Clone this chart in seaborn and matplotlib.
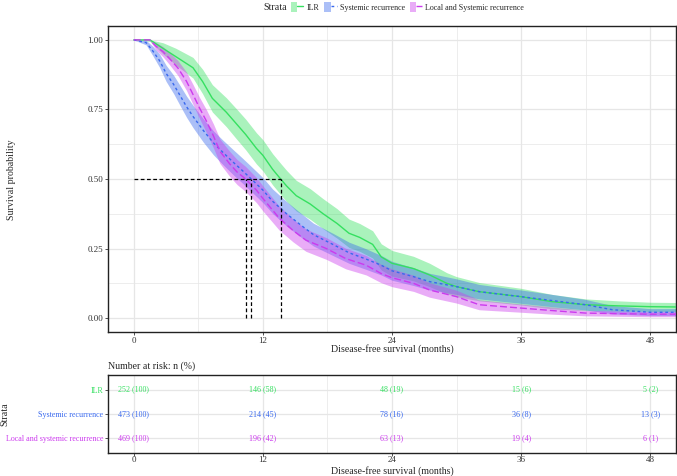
import numpy as np
import pandas as pd
import matplotlib
matplotlib.use("Agg")
import matplotlib.pyplot as plt
import seaborn as sns
from matplotlib.lines import Line2D
from matplotlib.patches import Patch
from matplotlib.legend_handler import HandlerTuple
from matplotlib.ticker import MultipleLocator

# ---------------- data ----------------
strata_names = ["ILR", "Systemic recurrence", "Local and Systemic recurrence"]
table_labels = ["ILR", "Systemic recurrence", "Local and systemic recurrence"]

ilr_time = [0, 1.5, 2.7, 3.9, 5.5, 6.4, 7.3, 8.6, 9.5, 10.4, 11.4, 12.0, 12.9, 13.65, 14.2, 15.1, 16.4,
            17.6, 18.9, 20.0, 21.0, 22.2, 23.0, 24.0, 26.0, 27.5, 29.1, 30.0, 32.1, 36.0, 38.9, 42.0,
            45.0, 48.0, 50.4]
ilr_surv = [1.0, 1.0, 0.97, 0.94, 0.90, 0.85, 0.79, 0.74, 0.70, 0.66, 0.61, 0.585, 0.535, 0.5, 0.475,
            0.44, 0.41, 0.375, 0.34, 0.305, 0.29, 0.265, 0.22, 0.197, 0.178, 0.155, 0.125, 0.113, 0.095,
            0.077, 0.059, 0.048, 0.044, 0.041, 0.04]
ilr_lower = [1.0, 0.995, 0.95, 0.91, 0.863, 0.806, 0.741, 0.688, 0.646, 0.605, 0.554, 0.529, 0.479, 0.444,
             0.419, 0.385, 0.355, 0.321, 0.287, 0.254, 0.24, 0.216, 0.173, 0.151, 0.134, 0.113, 0.087,
             0.077, 0.062, 0.047, 0.033, 0.027, 0.025, 0.024, 0.024]
ilr_upper = [1.0, 1.0, 0.99, 0.97, 0.937, 0.894, 0.839, 0.792, 0.754, 0.715, 0.666, 0.641, 0.591, 0.556,
             0.531, 0.495, 0.465, 0.429, 0.393, 0.356, 0.34, 0.314, 0.267, 0.243, 0.222, 0.197, 0.163,
             0.149, 0.128, 0.107, 0.085, 0.069, 0.062, 0.057, 0.056]

sys_time = [0, 1.15, 1.77, 2.4, 3.0, 3.7, 4.3, 4.9, 5.5, 6.45, 7.4, 8.3, 9.25, 10.1, 10.92, 12.0, 12.9,
            14.2, 15.5, 16.7, 18.5, 20.0, 21.6, 23.0, 24.0, 26.0, 27.5, 30.0, 32.1, 36.0, 38.9, 42.0,
            44.5, 48.0, 50.4]
sys_surv = [1.0, 0.99, 0.96, 0.925, 0.88, 0.84, 0.80, 0.76, 0.725, 0.675, 0.63, 0.595, 0.56, 0.53, 0.5,
            0.46, 0.42, 0.375, 0.335, 0.30, 0.265, 0.235, 0.212, 0.19, 0.17, 0.149, 0.131, 0.113, 0.095,
            0.077, 0.063, 0.048, 0.03, 0.021, 0.021]
sys_lower = [1.0, 0.982, 0.943, 0.901, 0.851, 0.807, 0.764, 0.722, 0.685, 0.633, 0.587, 0.551, 0.515,
             0.485, 0.455, 0.415, 0.376, 0.331, 0.292, 0.259, 0.225, 0.197, 0.175, 0.155, 0.136, 0.117,
             0.101, 0.085, 0.069, 0.053, 0.041, 0.029, 0.015, 0.009, 0.009]
sys_upper = [1.0, 0.998, 0.977, 0.949, 0.909, 0.873, 0.836, 0.798, 0.765, 0.717, 0.673, 0.639, 0.605,
             0.575, 0.545, 0.505, 0.464, 0.419, 0.378, 0.341, 0.305, 0.273, 0.249, 0.225, 0.204, 0.181,
             0.161, 0.141, 0.121, 0.101, 0.085, 0.067, 0.045, 0.034, 0.034]

loc_time = [0, 1.5, 2.1, 2.7, 3.3, 4.1, 4.9, 5.5, 6.1, 6.75, 7.4, 8.0, 8.9, 9.6, 10.39, 11.4, 12.0, 13.5,
            14.8, 16.0, 17.9, 19.7, 21.6, 23.0, 24.0, 26.0, 27.5, 30.0, 32.1, 36.0, 38.9, 42.0, 48.0, 50.4]
loc_surv = [1.0, 1.0, 0.976, 0.958, 0.934, 0.899, 0.851, 0.804, 0.756, 0.708, 0.655, 0.60, 0.555, 0.525,
            0.5, 0.46, 0.43, 0.36, 0.315, 0.28, 0.25, 0.214, 0.19, 0.16, 0.145, 0.125, 0.101, 0.077, 0.048,
            0.036, 0.027, 0.018, 0.014, 0.014]
loc_lower = [1.0, 0.997, 0.962, 0.94, 0.912, 0.872, 0.818, 0.768, 0.718, 0.667, 0.612, 0.556, 0.51, 0.48,
             0.455, 0.415, 0.385, 0.317, 0.274, 0.24, 0.211, 0.177, 0.155, 0.127, 0.113, 0.096, 0.075,
             0.054, 0.03, 0.021, 0.014, 0.008, 0.005, 0.005]
loc_upper = [1.0, 1.0, 0.99, 0.976, 0.956, 0.926, 0.884, 0.84, 0.794, 0.749, 0.698, 0.644, 0.60, 0.57,
             0.545, 0.505, 0.475, 0.403, 0.356, 0.32, 0.289, 0.251, 0.225, 0.193, 0.177, 0.154, 0.127,
             0.1, 0.066, 0.051, 0.04, 0.028, 0.023, 0.023]

median_times = [13.65, 10.92, 10.39]

risk_times = [0, 12, 24, 36, 48]
risk_ilr = ["252 (100)", "146 (58)", "48 (19)", "15 (6)", "5 (2)"]
risk_sys = ["473 (100)", "214 (45)", "78 (16)", "36 (8)", "13 (3)"]
risk_loc = ["469 (100)", "196 (42)", "63 (13)", "19 (4)", "6 (1)"]

# ---------------- styling ----------------
colors = ["#35E060", "#3868EE", "#CC3AEE"]
dash_styles = [(None, None), (2, 2), (5, 2.2)]

sns.set_theme(style="white")
plt.rcParams["font.family"] = ["Liberation Serif", "DejaVu Serif"]

FS_TITLE = 7.1
FS_TICK = 6.5
FS_SMALL = 5.8

W, H = 677, 476
fig = plt.figure(figsize=(W / 100, H / 100), dpi=100)

def fr(l, t, r, b):
    return [l / W, 1 - b / H, (r - l) / W, (b - t) / H]

ax = fig.add_axes(fr(108, 26, 676, 332))
axt = fig.add_axes(fr(108, 375, 676, 453))

series = [
    (ilr_time, ilr_surv, ilr_lower, ilr_upper),
    (sys_time, sys_surv, sys_lower, sys_upper),
    (loc_time, loc_surv, loc_lower, loc_upper),
]

frames = []
for name, (t, s, lo, hi) in zip(strata_names, series):
    frames.append(pd.DataFrame({"time": t, "surv": s, "lower": lo, "upper": hi, "Strata": name}))
df = pd.concat(frames, ignore_index=True)

# confidence bands
for name, col in zip(strata_names, colors):
    d = df[df["Strata"] == name]
    ax.fill_between(d["time"], d["lower"], d["upper"], color=col, alpha=0.42, linewidth=0, zorder=2)

sns.lineplot(data=df, x="time", y="surv", hue="Strata", style="Strata",
             palette=dict(zip(strata_names, colors)),
             dashes=dict(zip(strata_names, [""] + [d for d in dash_styles[1:]])),
             estimator=None, sort=False, linewidth=1.0, legend=False, ax=ax, zorder=3)

# median lines
for m in median_times:
    ax.plot([m, m], [0, 0.5], color="black", linestyle=(0, (3, 2)), linewidth=0.9, zorder=4)
ax.plot([0, max(median_times)], [0.5, 0.5], color="black", linestyle=(0, (3, 2)), linewidth=0.9, zorder=4)

grid_col = "#E6E6E6"
for a in (ax, axt):
    a.set_xlim(-2.4, 50.4)
    a.xaxis.set_major_locator(MultipleLocator(12))
    a.xaxis.set_minor_locator(MultipleLocator(6))
    a.grid(True, which="major", color=grid_col, linewidth=0.9, zorder=0)
    a.grid(True, which="minor", color=grid_col, linewidth=0.5, zorder=0)
    a.set_axisbelow(True)
    for sp in a.spines.values():
        sp.set_color("#222222")
        sp.set_linewidth(1.0)
    a.tick_params(axis="both", which="major", length=2.5, width=0.6, color="#333333",
                  labelsize=FS_TICK, labelcolor="#333333", pad=1, bottom=True, left=True)
    a.tick_params(axis="both", which="minor", length=0)
    a.set_xlabel("")
    a.set_ylabel("")
axt.tick_params(axis="x", which="major", length=2, pad=0.5)

ax.set_ylim(-0.05, 1.05)
ax.set_yticks([0, 0.25, 0.5, 0.75, 1.0])
ax.set_yticklabels(["0.00", "0.25", "0.50", "0.75", "1.00"])
ax.yaxis.set_minor_locator(MultipleLocator(0.125))
ax.set_xticks(risk_times)
ax.set_xticklabels([str(t) for t in risk_times])
fig.text(392 / W, 1 - 349.5 / H, "Disease-free survival (months)", ha="center", va="center", fontsize=FS_TITLE)
fig.text(12 / W, 1 - 180 / H, "Survival probability", rotation=90, ha="center", va="center", fontsize=FS_TITLE)

# legend
handles = []
for col, ds in zip(colors, dash_styles):
    p = Patch(facecolor=col, alpha=0.42, edgecolor="none")
    if ds[0] is None:
        ln = Line2D([], [], color=col, linewidth=1.0)
    else:
        ln = Line2D([], [], color=col, linewidth=1.0, dashes=ds)
    handles.append((p, ln))
fig.text(263 / W, 1 - 7 / H, "Strata", ha="left", va="center", fontsize=FS_TITLE)
fig.legend(handles, strata_names, handler_map={tuple: HandlerTuple(ndivide=None, pad=0)},
           loc="center left", bbox_to_anchor=(291 / W, 1 - 7 / H), ncol=3, frameon=False,
           fontsize=FS_SMALL, handlelength=1.55, handleheight=1.5, columnspacing=0.65,
           handletextpad=0.35, borderaxespad=0, borderpad=0)

# risk table
row_y = [3, 2, 1]
for rows, col, yy in zip([risk_ilr, risk_sys, risk_loc], colors, row_y):
    for t, txt in zip(risk_times, rows):
        axt.text(t, yy, txt, color=col, ha="center", va="center", fontsize=FS_SMALL)
axt.set_ylim(0.4, 3.6)
axt.set_yticks(row_y)
axt.set_yticklabels(table_labels, fontsize=FS_SMALL)
for lbl, col in zip(axt.get_yticklabels(), colors):
    lbl.set_color(col)
axt.set_xticks(risk_times)
axt.set_xticklabels([str(t) for t in risk_times])
fig.text(392 / W, 0.5 / H, "Disease-free survival (months)", ha="center", va="bottom", fontsize=FS_TITLE)
fig.text(5 / W, 1 - 414 / H, "Strata", rotation=90, ha="center", va="center", fontsize=FS_TITLE)
fig.text(108 / W, 1 - 366 / H, "Number at risk: n (%)", ha="left", va="center", fontsize=FS_TITLE)

fig.savefig("out.png", dpi=100, facecolor="white")
